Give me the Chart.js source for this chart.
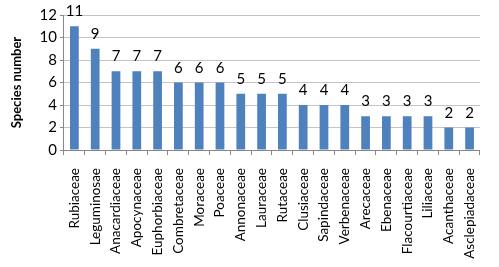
<!DOCTYPE html>
<html>
<head>
<meta charset="utf-8">
<script src="https://cdn.jsdelivr.net/npm/chart.js@4/dist/chart.umd.min.js"></script>
<style>
    html, body { margin: 0; padding: 0; background: #fff; }
    #wrap { width: 499px; height: 267px; }
</style>
</head>
<body>
<div id="wrap"><canvas id="familyChart"></canvas></div>
<script>
// ------------------- Data -------------------
const families = [
    'Rubiaceae', 'Leguminosae', 'Anacardiaceae', 'Apocynaceae', 'Euphorbiaceae',
    'Combretaceae', 'Moraceae', 'Poaceae', 'Annonaceae', 'Lauraceae',
    'Rutaceae', 'Clusiaceae', 'Sapindaceae', 'Verbenaceae', 'Arecaceae',
    'Ebenaceae', 'Flacourtiaceae', 'Liliaceae', 'Acanthaceae', 'Asclepiadaceae'
];
const speciesCount = [11, 9, 7, 7, 7, 6, 6, 6, 5, 5, 5, 4, 4, 4, 3, 3, 3, 3, 2, 2];
const yTicks = [0, 2, 4, 6, 8, 10, 12];

const fontFamily = 'Lato, "Open Sans", sans-serif';

// ------------------- Value labels above bars -------------------
const barValueLabels = {
    id: 'barValueLabels',
    afterDatasetsDraw(chart) {
        const ctx = chart.ctx;
        const meta = chart.getDatasetMeta(0);
        ctx.save();
        ctx.font = '15px ' + fontFamily;
        ctx.fillStyle = '#000';
        ctx.textAlign = 'center';
        ctx.textBaseline = 'alphabetic';
        meta.data.forEach((bar, i) => {
            ctx.fillText(String(speciesCount[i]), bar.x, bar.y - 10);
        });
        ctx.restore();
    }
};

// ------------------- Chart -------------------
new Chart(document.getElementById('familyChart').getContext('2d'), {
    type: 'bar',
    data: {
        labels: families,
        datasets: [{
            data: speciesCount,
            backgroundColor: '#4F81BD',
            categoryPercentage: 1,
            barPercentage: 0.42
        }]
    },
    options: {
        responsive: true,
        maintainAspectRatio: false,
        animation: false,
        layout: { padding: { top: 15, right: 9, left: 9, bottom: 0 } },
        plugins: {
            legend: { display: false },
            tooltip: { enabled: false }
        },
        scales: {
            x: {
                offset: true,
                afterFit(scale) {
                    // keep the label band the same height as the original
                    scale.height = 117;
                },
                grid: {
                    offset: true,
                    drawOnChartArea: false,
                    drawTicks: true,
                    tickLength: 5,
                    color: '#888'
                },
                border: { color: '#888' },
                ticks: {
                    autoSkip: false,
                    maxRotation: 90,
                    minRotation: 90,
                    padding: 13,
                    color: '#000',
                    font: { family: fontFamily, size: 13.5 }
                }
            },
            y: {
                min: 0,
                max: 12,
                afterBuildTicks(axis) {
                    axis.ticks = yTicks.map(v => ({ value: v }));
                },
                grid: {
                    color: '#c4c4c4',
                    tickLength: 4,
                    tickColor: '#888'
                },
                border: { color: '#888' },
                ticks: {
                    padding: 3,
                    color: '#000',
                    font: { family: fontFamily, size: 15 }
                },
                title: {
                    display: true,
                    text: 'Species number',
                    color: '#000',
                    padding: { top: 0, bottom: 12 },
                    font: { family: fontFamily, size: 13, weight: 'bold' }
                }
            }
        }
    },
    plugins: [barValueLabels]
});
</script>
</body>
</html>
